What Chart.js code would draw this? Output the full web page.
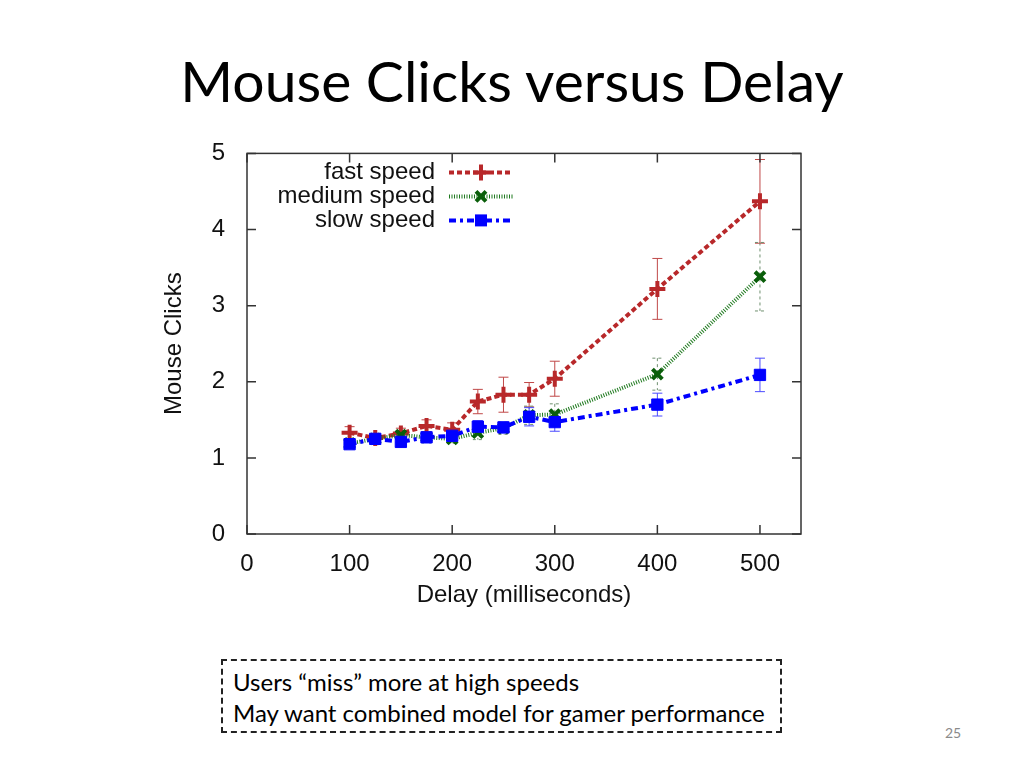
<!DOCTYPE html>
<html>
<head>
<meta charset="utf-8">
<script src="https://cdn.jsdelivr.net/npm/chart.js@4.4.0/dist/chart.umd.min.js"></script>
<style>
  body { margin:0; width:1024px; height:768px; background:#fff; position:relative; overflow:hidden; font-family:Lato, "Open Sans", sans-serif; }
  #title { position:absolute; left:0; width:1024px; top:46px; text-align:center; font-size:57px; color:#000; }
  #wrap { position:absolute; left:152px; top:125px; width:665px; height:485px; }
  #note { position:absolute; left:221px; top:659px; width:561px; height:74px; border:2px dashed #222; box-sizing:border-box; font-size:24px; padding:5px 10px; line-height:31px; color:#000; }
  #page { position:absolute; left:945px; top:724px; font-size:14px; color:#8a8a8a; }
</style>
</head>
<body>
<div id="title">Mouse Clicks versus Delay</div>
<div id="wrap"><canvas id="chart" width="665" height="485"></canvas></div>
<div id="note">Users “miss” more at high speeds<br>May want combined model for gamer performance</div>
<div id="page">25</div>
<script>
// --- data ---
const delays = [100, 125, 150, 175, 200, 225, 250, 275, 300, 400, 500];
const fastClicks   = [1.33, 1.26, 1.32, 1.42, 1.37, 1.74, 1.83, 1.83, 2.04, 3.22, 4.37];
const fastErr      = [0.08, 0.06, 0.07, 0.08, 0.09, 0.16, 0.23, 0.16, 0.23, 0.40, 0.55];
const mediumClicks = [1.19, 1.25, 1.30, 1.27, 1.25, 1.33, 1.39, 1.56, 1.57, 2.10, 3.38];
const mediumErr    = [0.05, 0.05, 0.06, 0.06, 0.06, 0.09, 0.08, 0.12, 0.14, 0.21, 0.45];
const slowClicks   = [1.18, 1.25, 1.21, 1.27, 1.29, 1.41, 1.40, 1.54, 1.47, 1.70, 2.09];
const slowErr      = [0.05, 0.06, 0.06, 0.06, 0.06, 0.08, 0.07, 0.12, 0.12, 0.15, 0.22];
const seriesNames  = ["fast speed", "medium speed", "slow speed"];
const xTicks = [0, 100, 200, 300, 400, 500];
const yTicks = [0, 1, 2, 3, 4, 5];

const RED = '#b8282a', GREEN = '#1f7a1f', BLUE = '#0000ff';
const tickFont = { family: 'Liberation Sans, Arial, sans-serif', size: 24 };

function pts(ys){ return ys.map((y,i)=>({ x: delays[i], y: y })); }

// gnuplot-ish marker, used for the key
function marker(ctx, style, x, y, color){
  ctx.save();
  ctx.setLineDash([]);
  ctx.strokeStyle = color; ctx.fillStyle = color; ctx.lineWidth = 4;
  ctx.beginPath();
  if(style === 'cross'){
    ctx.moveTo(x-8,y); ctx.lineTo(x+8,y); ctx.moveTo(x,y-8); ctx.lineTo(x,y+8); ctx.stroke();
  } else if(style === 'crossRot'){
    ctx.moveTo(x-5,y-5); ctx.lineTo(x+5,y+5); ctx.moveTo(x+5,y-5); ctx.lineTo(x-5,y+5); ctx.stroke();
  } else {
    ctx.fillRect(x-6,y-6,12,12);
  }
  ctx.restore();
}

const gnuplotBits = {
  id: 'gnuplotBits',
  beforeDatasetsDraw(chart){
    const { ctx, scales: { x, y } } = chart;
    ctx.save();
    // error bars
    chart.data.datasets.forEach(ds=>{
      ctx.strokeStyle = ds.errColor; ctx.lineWidth = 1;
      ctx.setLineDash(ds.errDash);
      ds.data.forEach((p,i)=>{
        const px = x.getPixelForValue(p.x);
        const top = y.getPixelForValue(p.y + ds.err[i]);
        const bot = y.getPixelForValue(p.y - ds.err[i]);
        ctx.beginPath();
        ctx.moveTo(px, top); ctx.lineTo(px, bot);
        ctx.moveTo(px-5, top); ctx.lineTo(px+5, top);
        ctx.moveTo(px-5, bot); ctx.lineTo(px+5, bot);
        ctx.stroke();
      });
    });
    ctx.restore();
  },
  afterDraw(chart){
    const { ctx, chartArea: a, scales: { x, y } } = chart;
    ctx.save();
    ctx.strokeStyle = '#333'; ctx.lineWidth = 1.5; ctx.setLineDash([]);
    ctx.strokeRect(a.left, a.top, a.right - a.left, a.bottom - a.top);
    ctx.beginPath();
    xTicks.forEach(v=>{
      const px = x.getPixelForValue(v);
      ctx.moveTo(px, a.bottom); ctx.lineTo(px, a.bottom - 9);
      ctx.moveTo(px, a.top); ctx.lineTo(px, a.top + 9);
    });
    yTicks.forEach(v=>{
      const py = y.getPixelForValue(v);
      ctx.moveTo(a.left, py); ctx.lineTo(a.left + 9, py);
      ctx.moveTo(a.right, py); ctx.lineTo(a.right - 9, py);
    });
    ctx.stroke();

    // key, right-aligned text with sample line after it
    ctx.font = '24px ' + tickFont.family;
    ctx.textAlign = 'right'; ctx.textBaseline = 'middle'; ctx.fillStyle = '#111';
    chart.data.datasets.forEach((ds,i)=>{
      const ty = a.top + 19 + i*24;
      const tx = a.left + 188;
      ctx.fillText(ds.label, tx, ty);
      ctx.strokeStyle = ds.borderColor; ctx.lineWidth = ds.borderWidth;
      ctx.setLineDash(ds.borderDash);
      ctx.beginPath(); ctx.moveTo(tx + 14, ty); ctx.lineTo(tx + 78, ty); ctx.stroke();
      marker(ctx, ds.pointStyle, tx + 46, ty, ds.pointBorderColor);
    });
    ctx.restore();
  }
};

new Chart(document.getElementById('chart'), {
  type: 'line',
  data: {
    datasets: [
      { label: seriesNames[0], data: pts(fastClicks), err: fastErr, errColor: '#c04848', errDash: [],
        borderColor: RED, borderWidth: 4, borderDash: [5,3], fill: false, tension: 0,
        pointStyle: 'cross', pointRadius: 8, pointBorderWidth: 4, pointBorderColor: RED, pointBackgroundColor: RED, order: 2 },
      { label: seriesNames[1], data: pts(mediumClicks), err: mediumErr, errColor: '#6f8f6f', errDash: [3,3],
        borderColor: GREEN, borderWidth: 4, borderDash: [1,1.5], fill: false, tension: 0,
        pointStyle: 'crossRot', pointRadius: 7, pointBorderWidth: 4, pointBorderColor: '#0a5e0a', pointBackgroundColor: '#0a5e0a', order: 1 },
      { label: seriesNames[2], data: pts(slowClicks), err: slowErr, errColor: '#4a4aff', errDash: [],
        borderColor: BLUE, borderWidth: 4, borderDash: [7,4,3,4], fill: false, tension: 0,
        pointStyle: 'rect', pointRadius: 8, pointBorderWidth: 1, pointBorderColor: BLUE, pointBackgroundColor: BLUE, order: 0 }
    ]
  },
  options: {
    responsive: false, animation: false, devicePixelRatio: 1,
    layout: { padding: { left: 0, top: 12, right: 16, bottom: 0 } },
    plugins: { legend: { display: false }, tooltip: { enabled: false } },
    scales: {
      x: {
        type: 'linear', min: 0, max: 540,
        grid: { display: false }, border: { display: false },
        afterBuildTicks: s => { s.ticks = xTicks.map(v=>({ value: v })); },
        afterFit: s => { s.height = 76; },
        ticks: { font: tickFont, color: '#111', padding: 8, maxRotation: 0 },
        title: { display: true, text: 'Delay (milliseconds)', font: tickFont, color: '#111', padding: { top: 0, bottom: 0 } }
      },
      y: {
        min: 0, max: 5,
        grid: { display: false }, border: { display: false },
        afterBuildTicks: s => { s.ticks = yTicks.map(v=>({ value: v })); },
        afterFit: s => { s.width = 95; },
        ticks: { font: tickFont, color: '#111', padding: 14 },
        title: { display: true, text: 'Mouse Clicks', font: tickFont, color: '#111', padding: { top: 8, bottom: 0 } }
      }
    }
  },
  plugins: [gnuplotBits]
});
</script>
</body>
</html>
